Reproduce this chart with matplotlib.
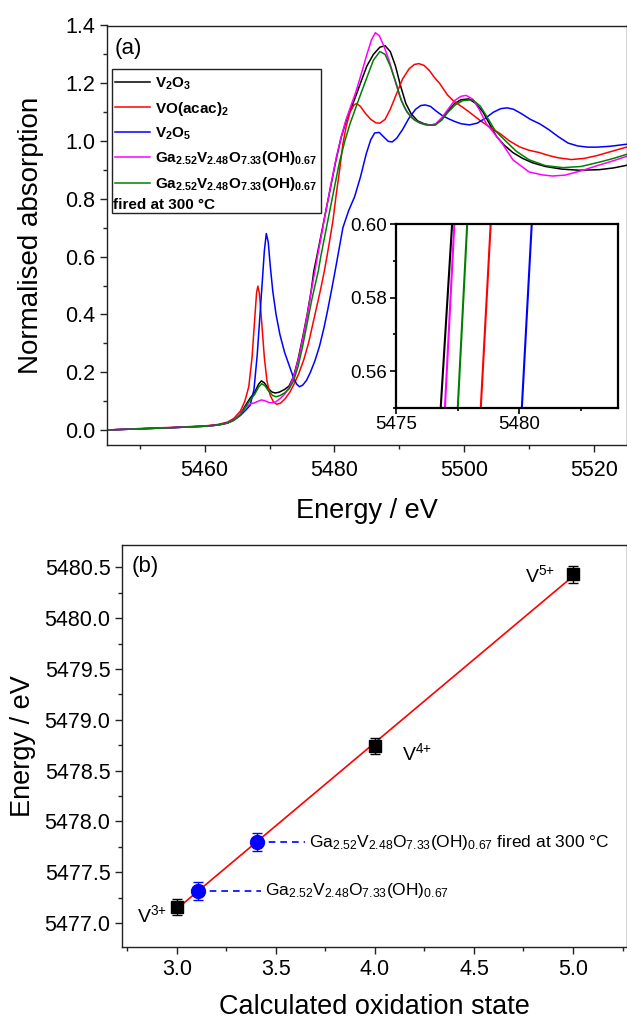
import numpy as np
import matplotlib
matplotlib.use("Agg")
import matplotlib.pyplot as plt
from matplotlib.ticker import MultipleLocator, FormatStrFormatter
from matplotlib.patches import Rectangle
from matplotlib.lines import Line2D

plt.rcParams['font.family'] = ['Liberation Sans', 'DejaVu Sans']
plt.rcParams['mathtext.fontset'] = 'custom'
plt.rcParams['mathtext.rm'] = 'Liberation Sans'
plt.rcParams['mathtext.it'] = 'Liberation Sans:italic'
plt.rcParams['mathtext.bf'] = 'Liberation Sans:bold'

# ---------------- Panel (a) data: XANES spectra ----------------
E_v2o3 = [5445, 5450, 5455, 5460, 5462, 5463.5, 5464.5, 5465.5, 5466.3, 5467.0, 5467.7, 5468.3,
          5468.75, 5469.2, 5469.8, 5470.4, 5470.9, 5471.5, 5472.3, 5473.0, 5473.7, 5474.4, 5475.1,
          5475.8, 5476.4, 5476.82, 5477.28, 5477.9, 5478.6, 5479.4, 5480.2, 5481.0, 5481.8, 5482.5,
          5483.2, 5484.0, 5485.0, 5486.0, 5487.0, 5487.8, 5488.6, 5489.4, 5490.2, 5491.0, 5491.8,
          5492.8, 5493.8, 5494.8, 5495.6, 5496.5, 5497.5, 5498.5, 5499.5, 5500.7, 5501.8, 5502.9,
          5504.0, 5505.0, 5506.2, 5507.5, 5509.0, 5510.5, 5512.5, 5515.0, 5517.7, 5520.8, 5523.0, 5525.0]
mu_v2o3 = [0.000, 0.004, 0.008, 0.013, 0.017, 0.024, 0.034, 0.055, 0.085, 0.110, 0.130, 0.158,
           0.170, 0.163, 0.143, 0.131, 0.128, 0.131, 0.140, 0.152, 0.185, 0.245, 0.320,
           0.400, 0.480, 0.550, 0.600, 0.670, 0.750, 0.840, 0.930, 1.010, 1.070, 1.110,
           1.150, 1.200, 1.260, 1.300, 1.325, 1.330, 1.310, 1.260, 1.190, 1.130, 1.095,
           1.070, 1.060, 1.055, 1.058, 1.075, 1.105, 1.130, 1.143, 1.146, 1.130, 1.100,
           1.055, 1.015, 0.985, 0.960, 0.940, 0.925, 0.912, 0.903, 0.899, 0.901, 0.907, 0.916]

E_voacac = [5445, 5450, 5455, 5460, 5462, 5463.5, 5464.5, 5465.5, 5466.2, 5466.8, 5467.3, 5467.7,
            5468.0, 5468.2, 5468.45, 5468.8, 5469.2, 5469.6, 5470.1, 5470.6, 5471.1, 5471.7, 5472.4,
            5473.1, 5473.8, 5474.5, 5475.3, 5476.0, 5476.7, 5477.3, 5477.9, 5478.44, 5478.84, 5479.3,
            5479.8, 5480.3, 5480.8, 5481.3, 5481.8, 5482.4, 5483.0, 5483.4, 5484.0, 5484.8, 5485.6,
            5486.4, 5487.0, 5487.8, 5488.6, 5489.5, 5490.5, 5491.5, 5492.3, 5493.0, 5493.8, 5494.6,
            5495.4, 5496.2, 5497.4, 5498.3, 5499.3, 5500.5, 5502.4, 5503.8, 5505.5, 5507.0, 5508.5,
            5510.0, 5511.6, 5513.0, 5514.5, 5516.5, 5518.5, 5520.5, 5522.5, 5525.0]
mu_voacac = [0.000, 0.005, 0.009, 0.014, 0.019, 0.027, 0.040, 0.065, 0.100, 0.150, 0.250, 0.380,
             0.475, 0.498, 0.470, 0.370, 0.250, 0.170, 0.120, 0.097, 0.089, 0.093, 0.108,
             0.130, 0.160, 0.195, 0.245, 0.300, 0.370, 0.430, 0.490, 0.550, 0.600, 0.660,
             0.730, 0.820, 0.900, 0.990, 1.050, 1.100, 1.125, 1.130, 1.120, 1.095, 1.075,
             1.063, 1.062, 1.075, 1.110, 1.160, 1.215, 1.250, 1.265, 1.268, 1.262, 1.245,
             1.220, 1.200, 1.160, 1.140, 1.124, 1.105, 1.072, 1.050, 1.026, 1.000, 0.980,
             0.968, 0.960, 0.950, 0.942, 0.936, 0.940, 0.950, 0.963, 0.979]

E_v2o5 = [5445, 5450, 5455, 5460, 5462, 5463.5, 5464.5, 5465.5, 5466.3, 5467.0, 5467.6, 5468.1,
          5468.5, 5468.9, 5469.2, 5469.5, 5469.8, 5470.1, 5470.5, 5471.0, 5471.6, 5472.3, 5473.0,
          5473.7, 5474.2, 5474.6, 5475.1, 5475.7, 5476.3, 5477.0, 5477.7, 5478.4, 5479.0, 5479.6,
          5480.1, 5480.5, 5481.3, 5482.2, 5483.1, 5484.0, 5484.9, 5485.6, 5486.2, 5486.9, 5487.7,
          5488.3, 5488.9, 5489.6, 5490.5, 5491.5, 5492.5, 5493.3, 5494.0, 5494.8, 5495.6, 5496.5,
          5497.5, 5498.5, 5499.5, 5500.8, 5502.0, 5503.3, 5504.5, 5505.6, 5506.6, 5507.6, 5508.8,
          5510.2, 5511.6, 5513.0, 5514.5, 5516.0, 5517.5, 5519.0, 5520.5, 5522.5, 5525.0]
mu_v2o5 = [0.000, 0.004, 0.008, 0.013, 0.017, 0.024, 0.034, 0.050, 0.068, 0.085, 0.140, 0.260,
           0.390, 0.520, 0.620, 0.680, 0.650, 0.570, 0.480, 0.400, 0.330, 0.270, 0.225,
           0.180, 0.158, 0.150, 0.155, 0.172, 0.200, 0.240, 0.290, 0.355, 0.420, 0.490,
           0.550, 0.600, 0.700, 0.760, 0.807, 0.875, 0.956, 1.005, 1.028, 1.030, 1.012,
           0.999, 0.997, 1.010, 1.040, 1.080, 1.110, 1.123, 1.125, 1.120, 1.105, 1.090,
           1.078, 1.068, 1.060, 1.056, 1.062, 1.080, 1.100, 1.112, 1.115, 1.110, 1.095,
           1.075, 1.060, 1.040, 1.015, 0.993, 0.983, 0.979, 0.979, 0.982, 0.989]

E_ga = [5445, 5450, 5455, 5460, 5462, 5463.5, 5464.5, 5465.5, 5466.3, 5467.0, 5467.7, 5468.3,
        5468.75, 5469.3, 5469.9, 5470.4, 5471.0, 5471.7, 5472.4, 5473.1, 5473.8, 5474.5, 5475.2,
        5475.9, 5476.5, 5476.99, 5477.37, 5478.0, 5478.7, 5479.5, 5480.3, 5481.1, 5481.8, 5482.5,
        5483.3, 5484.1, 5485.0, 5485.7, 5486.3, 5486.9, 5487.6, 5488.4, 5489.2, 5490.0, 5490.8,
        5491.7, 5492.7, 5493.8, 5494.8, 5495.6, 5496.5, 5497.5, 5498.5, 5499.5, 5500.3, 5501.3,
        5502.3, 5503.4, 5504.5, 5505.9, 5507.5, 5510.0, 5512.0, 5513.6, 5515.5, 5518.0, 5520.5,
        5523.0, 5525.0]
mu_ga = [0.000, 0.004, 0.008, 0.013, 0.017, 0.024, 0.034, 0.055, 0.078, 0.090, 0.094, 0.100,
         0.104, 0.101, 0.095, 0.094, 0.098, 0.110, 0.126, 0.150, 0.190, 0.250, 0.325,
         0.410, 0.490, 0.550, 0.600, 0.675, 0.760, 0.855, 0.945, 1.020, 1.075, 1.120,
         1.170, 1.230, 1.300, 1.350, 1.375, 1.365, 1.330, 1.280, 1.220, 1.160, 1.115,
         1.085, 1.068, 1.058, 1.055, 1.060, 1.080, 1.110, 1.140, 1.155, 1.158, 1.145,
         1.110, 1.060, 1.030, 0.990, 0.935, 0.893, 0.883, 0.879, 0.882, 0.897, 0.915,
         0.932, 0.947]

E_ga300 = [5445, 5450, 5455, 5460, 5462, 5463.5, 5464.5, 5465.5, 5466.3, 5467.0, 5467.7, 5468.3,
           5468.8, 5469.3, 5469.9, 5470.5, 5471.0, 5471.6, 5472.3, 5473.0, 5473.7, 5474.4, 5475.1,
           5475.8, 5476.5, 5477.0, 5477.51, 5477.89, 5478.5, 5479.2, 5480.0, 5480.8, 5481.6, 5482.4,
           5483.2, 5484.0, 5485.0, 5486.0, 5487.0, 5487.8, 5488.6, 5489.5, 5490.3, 5491.2, 5492.2,
           5493.2, 5494.3, 5495.5, 5496.5, 5497.5, 5498.6, 5499.8, 5501.3, 5502.5, 5503.6, 5504.8,
           5506.4, 5508.0, 5510.0, 5512.5, 5515.2, 5518.0, 5521.0, 5523.0, 5525.0]
mu_ga300 = [0.000, 0.004, 0.008, 0.013, 0.017, 0.024, 0.034, 0.052, 0.080, 0.103, 0.123, 0.148,
            0.160, 0.153, 0.133, 0.119, 0.115, 0.119, 0.128, 0.142, 0.170, 0.220, 0.290,
            0.370, 0.450, 0.500, 0.550, 0.600, 0.670, 0.750, 0.840, 0.930, 1.000, 1.060,
            1.110, 1.160, 1.220, 1.280, 1.310, 1.300, 1.260, 1.200, 1.140, 1.100, 1.075,
            1.062, 1.055, 1.055, 1.072, 1.100, 1.125, 1.140, 1.143, 1.120, 1.080, 1.035,
            1.000, 0.965, 0.935, 0.915, 0.908, 0.912, 0.928, 0.940, 0.954]

spectra = [
    (E_v2o3, mu_v2o3, '#000000', r'$\mathbf{V_2O_3}$'),
    (E_voacac, mu_voacac, '#FF0000', r'$\mathbf{VO(acac)_2}$'),
    (E_v2o5, mu_v2o5, '#0000FF', r'$\mathbf{V_2O_5}$'),
    (E_ga, mu_ga, '#FF00FF', r'$\mathbf{Ga_{2.52}V_{2.48}O_{7.33}(OH)_{0.67}}$'),
    (E_ga300, mu_ga300, '#008000', r'$\mathbf{Ga_{2.52}V_{2.48}O_{7.33}(OH)_{0.67}}$'),
]

# ---------------- Panel (b) data ----------------
ox_ref = [3.0, 4.0, 5.0]
en_ref = [5477.155, 5478.74, 5480.43]
err_ref = [0.08, 0.08, 0.08]
ref_labels = [r'V$^{3{+}}$', r'V$^{4{+}}$', r'V$^{5{+}}$']
ox_smp = [3.106, 3.406]
en_smp = [5477.315, 5477.795]
err_smp = [0.085, 0.09]
smp_labels = [r'Ga$_{2.52}$V$_{2.48}$O$_{7.33}$(OH)$_{0.67}$',
              r'Ga$_{2.52}$V$_{2.48}$O$_{7.33}$(OH)$_{0.67}$ fired at 300 $\degree$C']

W, H = 627, 1023
fig = plt.figure(figsize=(W / 100, H / 100), dpi=100)

def style_axes(ax, lw=1.0):
    for s in ax.spines.values():
        s.set_linewidth(lw)
        s.set_color('#222222')
    ax.tick_params(which='major', direction='out', length=5, width=1.0, color='#222222')
    ax.tick_params(which='minor', direction='out', length=3, width=1.0, color='#222222')

# ---- Panel (a)
axA = fig.add_axes([107.3 / W, 1 - 445 / H, 519.2 / W, 419.5 / H])
for E, mu, c, lab in spectra:
    axA.plot(E, mu, color=c, lw=1.1, label=lab)
axA.set_xlim(5445, 5525)
axA.set_ylim(-0.052, 1.4)
axA.xaxis.set_major_locator(MultipleLocator(20))
axA.xaxis.set_minor_locator(MultipleLocator(10))
axA.yaxis.set_major_locator(MultipleLocator(0.2))
axA.yaxis.set_minor_locator(MultipleLocator(0.1))
axA.yaxis.set_major_formatter(FormatStrFormatter('%.1f'))
style_axes(axA)
axA.tick_params(labelsize=15.5)
axA.tick_params(axis='x', pad=6)
axA.set_xlabel('Energy / eV', fontsize=19.5, labelpad=12)
axA.set_ylabel('Normalised absorption', fontsize=20, labelpad=15)
axA.text(0.015, 0.9457, '(a)', transform=axA.transAxes, fontsize=16, va='center', ha='left')

handles = [Line2D([], [], color=c, lw=1.1) for _, _, c, _ in spectra]
labels = [lab for _, _, _, lab in spectra]
leg = axA.legend(handles, labels, loc='upper left', bbox_to_anchor=(0.008, 0.888),
                 frameon=False, fontsize=11, handlelength=2.3, handletextpad=0.35,
                 labelspacing=0.5, borderaxespad=0, borderpad=0.2)
axA.add_patch(Rectangle((0.0085, 0.5538), 0.404, 0.3418, transform=axA.transAxes,
                        facecolor='white', edgecolor='#222222', lw=1.0, zorder=4))
leg.set_zorder(5)
axA.text(0.0115, 0.5725, 'fired at 300 °C', transform=axA.transAxes, fontsize=11,
         fontweight='bold', va='center', ha='left', zorder=6)

# ---- Inset
axI = fig.add_axes([395.7 / W, 1 - 407.7 / H, 222.6 / W, 183.4 / H])
for E, mu, c, lab in spectra:
    axI.plot(E, mu, color=c, lw=1.5)
axI.set_xlim(5475, 5484)
axI.set_ylim(0.55, 0.60)
axI.xaxis.set_major_locator(MultipleLocator(5))
axI.xaxis.set_minor_locator(MultipleLocator(2.5))
axI.yaxis.set_major_locator(MultipleLocator(0.02))
axI.yaxis.set_minor_locator(MultipleLocator(0.01))
axI.yaxis.set_major_formatter(FormatStrFormatter('%.2f'))
for s in axI.spines.values():
    s.set_linewidth(1.6)
    s.set_color('black')
axI.tick_params(which='major', direction='out', length=4, width=1.2, labelsize=13.5, pad=2)
axI.tick_params(which='minor', direction='out', length=2.5, width=1.2)

# ---- Panel (b)
axB = fig.add_axes([122.3 / W, 1 - 947.3 / H, 504.2 / W, 402.3 / H])
coef = np.polyfit(ox_ref, en_ref, 1)
xfit = np.array([min(ox_ref), max(ox_ref)])
axB.plot(xfit, np.polyval(coef, xfit), color='#FF0000', lw=1.2, zorder=2)
axB.errorbar(ox_ref, en_ref, yerr=err_ref, fmt='s', color='black', ms=9, ecolor='black',
             elinewidth=1.0, capsize=3.5, capthick=1.0, zorder=3)
axB.errorbar(ox_smp, en_smp, yerr=err_smp, fmt='o', color='#0000FF', ms=10, ecolor='#0000FF',
             elinewidth=1.0, capsize=3.5, capthick=1.0, zorder=3)
# dashed leaders and labels for samples
text_x = [3.444, 3.667]
for xs, ys, tx, lab in zip(ox_smp, en_smp, text_x, smp_labels):
    axB.plot([xs, tx - 0.02], [ys, ys], color='#0000FF', lw=1.2, ls=(0, (4, 3)), zorder=1)
    axB.text(tx, ys, lab, fontsize=12.5, va='center', ha='left')
# reference labels
axB.text(2.95, 5477.08, ref_labels[0], fontsize=14, ha='right', va='center')
axB.text(4.138, 5478.67, ref_labels[1], fontsize=14, ha='left', va='center')
axB.text(4.907, 5480.42, ref_labels[2], fontsize=14, ha='right', va='center')
axB.text(0.019, 0.9466, '(b)', transform=axB.transAxes, fontsize=16, va='center', ha='left')

axB.set_xlim(2.725, 5.27)
axB.set_ylim(5476.76, 5480.72)
axB.xaxis.set_major_locator(MultipleLocator(0.5))
axB.xaxis.set_minor_locator(MultipleLocator(0.25))
axB.yaxis.set_major_locator(MultipleLocator(0.5))
axB.yaxis.set_minor_locator(MultipleLocator(0.25))
axB.yaxis.set_major_formatter(FormatStrFormatter('%.1f'))
axB.xaxis.set_major_formatter(FormatStrFormatter('%.1f'))
style_axes(axB)
axB.tick_params(labelsize=15.5)
axB.set_xlabel('Calculated oxidation state', fontsize=19.5, labelpad=10)
axB.set_ylabel('Energy / eV', fontsize=19.5, labelpad=6)

fig.savefig('out.png', dpi=100)
